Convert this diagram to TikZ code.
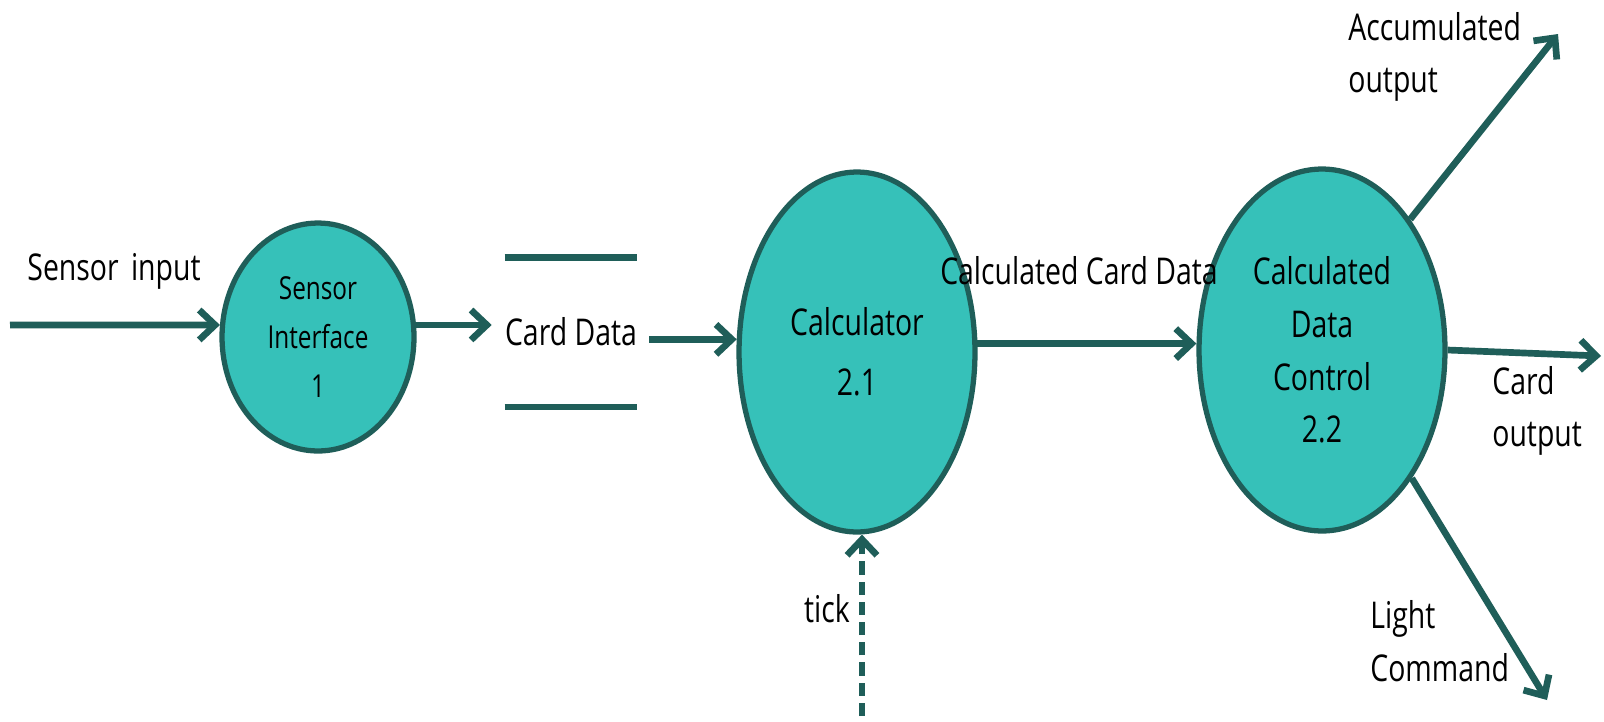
\documentclass[tikz,border=0pt]{standalone}
\usepackage{fontspec}
\setmainfont{Open Sans}[FakeStretch=0.77]
\usepackage{tikz}
\usetikzlibrary{shapes,arrows.meta}
\definecolor{dfdfill}{RGB}{54,193,185}
\definecolor{dfdline}{RGB}{31,94,89}
\tikzstyle{bubble} = [ellipse, draw=dfdline, fill=dfdfill, line width=3pt,
    inner sep=0pt, align=center, font=\fontsize{21}{30}\selectfont]
\tikzstyle{flow} = [draw=dfdline, line width=3.8pt, -{Straight Barb[length=9pt,width=17pt]}]
\tikzstyle{storeline} = [draw=dfdline, line width=3.8pt]
\tikzstyle{txt} = [inner sep=0pt, align=left, font=\fontsize{21}{30}\selectfont]

\begin{document}
\begin{tikzpicture}[x=0.02cm,y=-0.02cm]
      \useasboundingbox (0,0) rectangle (1604,721);
      % processes
      \node[bubble,minimum width=3.84cm,minimum height=4.56cm,
        font=\fontsize{18}{28}\selectfont] (si) at (318,337) {Sensor\\Interface\\1};
      \node[bubble,minimum width=4.72cm,minimum height=7.2cm,
        font=\fontsize{21}{34}\selectfont] (calc) at (857,352) {Calculator\\2.1};
      \node[bubble,minimum width=4.92cm,minimum height=7.24cm] (cdc) at (1322,350)
        {Calculated\\Data\\Control\\2.2};
      % data store
      \node[txt,minimum width=2.6cm,minimum height=2.98cm,align=center] (store) at (571,332) {Card Data};
      \draw[storeline] (store.north west) -- (store.north east);
      \draw[storeline] (store.south west) -- (store.south east);
      % free ends
      \coordinate (sin) at (10,325);
      \coordinate (tk) at (862,716);
      \coordinate (accum) at (1558,34);
      \coordinate (cout) at (1601,356);
      \coordinate (light) at (1547,700);
      % flows
      \draw[flow] (sin) -- (si.173);
      \draw[flow,shorten >=0.26cm] (si.7) -- (si.7 -| store.west);
      \draw[flow,shorten <=0.24cm] (store.east |- calc.174) -- (calc.174);
      \draw[flow] (calc.4) -- (calc.4 -| cdc.west);
      \draw[flow,dash pattern=on 7.5pt off 4pt] (tk) -- (tk |- calc.south);
      \draw[flow] (cdc.56) -- (accum);
      \draw[flow] (cdc.east) -- (cout);
      \draw[flow] (cdc.305) -- (light);
      % labels
      \node[txt] (lsin) at (114,271) {Sensor\,\,input};
      \node[txt] (ltk) at (827,609) {tick};
      \node[txt] (lccd) at (1079,271) {Calculated Card Data};
      \node[txt,anchor=west] (lacc) at (1348,57) {Accumulated\\output};
      \node[txt,anchor=west] (lcout) at (1492,411) {Card\\output};
      \node[txt,anchor=west] (llight) at (1370,641) {Light\\Command};
\end{tikzpicture}
\end{document}
